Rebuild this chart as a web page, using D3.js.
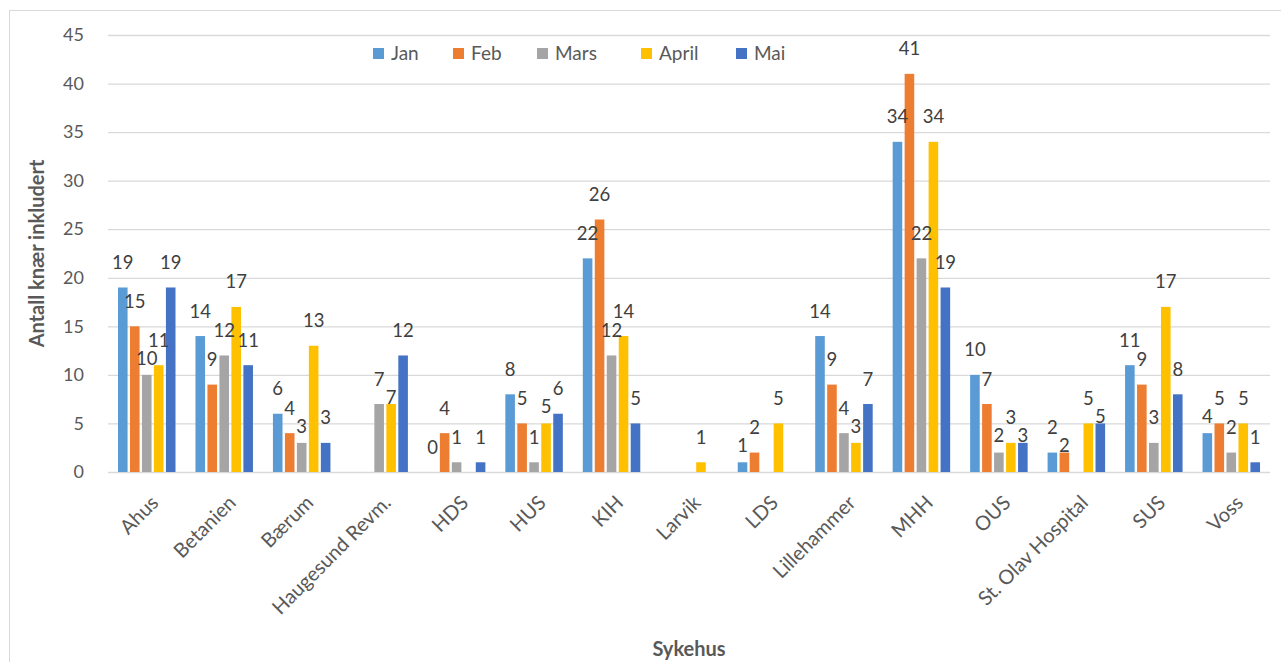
<!DOCTYPE html>
<html>
<head>
<meta charset="utf-8">
<script src="https://cdn.jsdelivr.net/npm/d3@7"></script>
<style>
  body { margin: 0; background: #fff; }
  svg { display: block; font-family: Lato, "Liberation Sans", sans-serif; }
</style>
</head>
<body>
<svg id="chart" width="1281" height="662"></svg>
<script>
// data
const sykehus = ['Ahus', 'Betanien', 'Bærum', 'Haugesund Revm.', 'HDS', 'HUS', 'KIH',
  'Larvik', 'LDS', 'Lillehammer', 'MHH', 'OUS', 'St. Olav Hospital', 'SUS', 'Voss'];
const maaneder = ['Jan', 'Feb', 'Mars', 'April', 'Mai'];
const jan   = [19, 14, 6, null, 0, 8, 22, null, 1, 14, 34, 10, 2, 11, 4];
const feb   = [15, 9, 4, null, 4, 5, 26, null, 2, 9, 41, 7, 2, 9, 5];
const mars  = [10, 12, 3, 7, 1, 1, 12, null, null, 4, 22, 2, null, 3, 2];
const april = [11, 17, 13, 7, null, 5, 14, 1, 5, 3, 34, 3, 5, 17, 5];
const mai   = [19, 11, 3, 12, 1, 6, 5, null, null, 7, 19, 3, 5, 8, 1];
const yTicks = [0, 5, 10, 15, 20, 25, 30, 35, 40, 45];
const farger = ['#5B9BD5', '#ED7D31', '#A5A5A5', '#FFC000', '#4472C4'];

const serier = [jan, feb, mars, april, mai];

const svg = d3.select('#chart');
const plotLeft = 108, plotRight = 1270, plotTop = 35, plotBottom = 472;

// outer chart border
svg.append('rect')
  .attr('x', 9.5).attr('y', 10.5)
  .attr('width', 1280).attr('height', 660)
  .attr('fill', 'none').attr('stroke', '#d9d9d9');

const x0 = d3.scaleBand().domain(sykehus).range([plotLeft, plotRight]);
const x1 = d3.scaleBand().domain(maaneder).range([10, 67.5]).paddingInner(0.2);
const y = d3.scaleLinear().domain([0, 45]).range([plotBottom, plotTop]);
const color = d3.scaleOrdinal().domain(maaneder).range(farger);

// gridlines
svg.append('g')
  .selectAll('line')
  .data(yTicks)
  .join('line')
  .attr('x1', plotLeft).attr('x2', plotRight)
  .attr('y1', d => y(d) + 0.5).attr('y2', d => y(d) + 0.5)
  .attr('stroke', '#d9d9d9').attr('stroke-width', 1.3);

// y axis labels
const yAxis = svg.append('g')
  .attr('transform', `translate(${plotLeft},0)`)
  .call(d3.axisLeft(y).tickValues(yTicks).tickSize(0).tickPadding(24));
yAxis.select('.domain').remove();
yAxis.selectAll('text').attr('fill', '#595959').style('font-size', '18px')
  .style('font-family', 'Lato, sans-serif');

// bars
const data = [];
sykehus.forEach((s, i) => {
  maaneder.forEach((m, j) => {
    const v = serier[j][i];
    if (v !== null) data.push({ sykehus: s, maaned: m, value: v });
  });
});

svg.append('g')
  .selectAll('rect')
  .data(data)
  .join('rect')
  .attr('x', d => x0(d.sykehus) + x1(d.maaned))
  .attr('y', d => y(d.value))
  .attr('width', x1.bandwidth())
  .attr('height', d => y(0) - y(d.value))
  .attr('fill', d => color(d.maaned));

// data labels, bigger values first, push lower ones down if they collide
const placed = [];
const labelG = svg.append('g');
const sorted = data.slice().sort((a, b) => b.value - a.value);
sorted.forEach(d => {
  const cx = x0(d.sykehus) + x1(d.maaned) + x1.bandwidth() / 2;
  const w = String(d.value).length * 10 + 2;
  let cy = y(d.value) - 25;
  const h = 17;
  let moved = true;
  while (moved) {
    moved = false;
    for (const p of placed) {
      if (Math.abs(p.cx - cx) < (p.w + w) / 2 && Math.abs(p.cy - cy) < h) {
        cy = p.cy + h + 1;
        moved = true;
      }
    }
  }
  placed.push({ cx, cy, w });
  labelG.append('text')
    .attr('x', cx).attr('y', cy + 6.5)
    .attr('text-anchor', 'middle')
    .attr('fill', '#404040')
    .style('font-size', '18.5px')
    .text(d.value);
});

// category labels
const xAxis = svg.append('g')
  .attr('transform', `translate(0,${plotBottom})`)
  .call(d3.axisBottom(x0).tickSize(0).tickPadding(0));
xAxis.select('.domain').remove();
xAxis.selectAll('text')
  .attr('fill', '#595959')
  .style('font-size', '20px')
  .style('font-family', 'Lato, sans-serif')
  .attr('text-anchor', 'end')
  .attr('dy', null)
  .attr('transform', 'translate(13,32) rotate(-45)');

// axis titles
svg.append('text')
  .attr('transform', `translate(44,${(plotTop + plotBottom) / 2}) rotate(-90)`)
  .attr('text-anchor', 'middle')
  .attr('fill', '#595959')
  .style('font-size', '20px').style('font-weight', 'bold')
  .text('Antall knær inkludert');

svg.append('text')
  .attr('x', (plotLeft + plotRight) / 2).attr('y', 656)
  .attr('text-anchor', 'middle')
  .attr('fill', '#595959')
  .style('font-size', '20px').style('font-weight', 'bold')
  .text('Sykehus');

// legend
const legendX = [373, 453, 537, 641, 736];
const legend = svg.append('g')
  .selectAll('g')
  .data(maaneder)
  .join('g')
  .attr('transform', (d, i) => `translate(${legendX[i]},48)`);
legend.append('rect')
  .attr('width', 11).attr('height', 11)
  .attr('fill', d => color(d));
legend.append('text')
  .attr('x', 18).attr('y', 12)
  .attr('fill', '#595959')
  .style('font-size', '19px')
  .text(d => d);
</script>
</body>
</html>
